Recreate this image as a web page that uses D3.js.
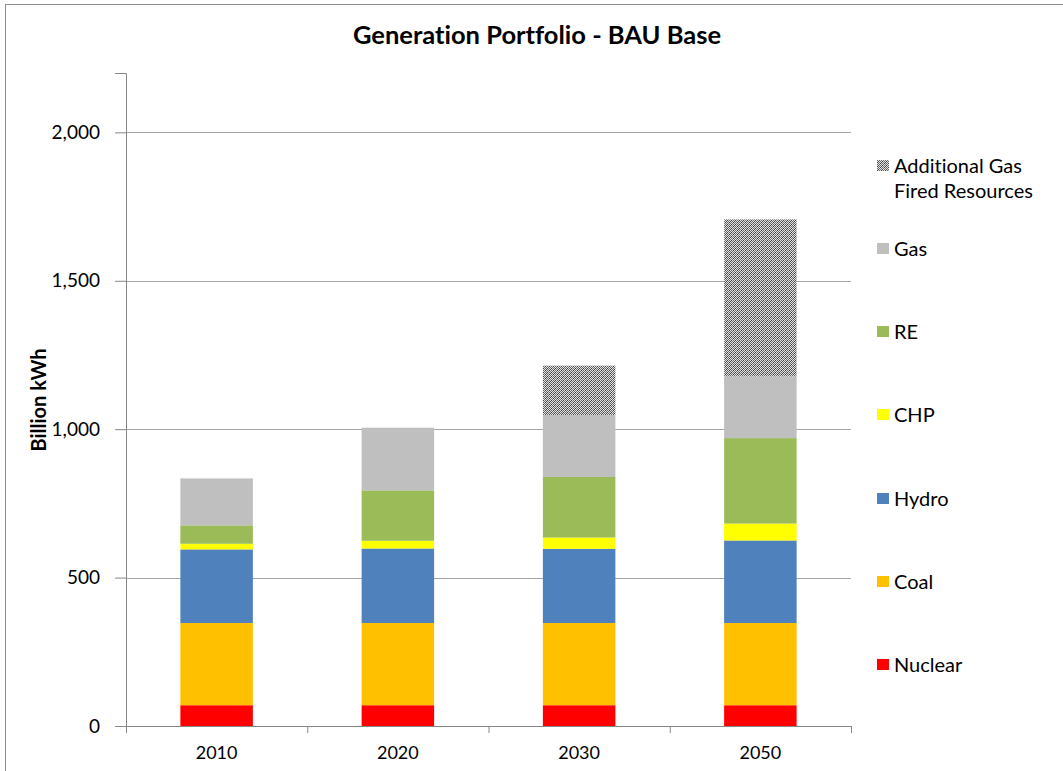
<!DOCTYPE html>
<html>
<head>
<meta charset="utf-8">
<script src="https://cdn.jsdelivr.net/npm/d3@7/dist/d3.min.js"></script>
<style>
  body { margin: 0; background: #fff; }
  svg { font-family: Lato, "Open Sans", sans-serif; font-variant-ligatures: none; }
</style>
</head>
<body>
<svg id="chart"></svg>
<script>
var viewWidth = 1063;
var viewHeight = 771;

// data (billion kWh)
var years = ["2010", "2020", "2030", "2050"];
var seriesNames = ["Nuclear", "Coal", "Hydro", "CHP", "RE", "Gas", "Additional Gas Fired Resources"];
var nuclear = [70, 70, 70, 70];
var coal = [277, 277, 277, 277];
var hydro = [248, 251, 250, 278];
var chp = [19, 26, 38, 57];
var re = [62, 170, 204, 288];
var gas = [158, 211, 209, 208];
var addGas = [0, 0, 166, 529];
var yTicks = [0, 500, 1000, 1500, 2000];

var colors = ["#ff0000", "#ffc000", "#4f81bd", "#ffff00", "#9bbb59", "#bfbfbf", "url(#checker)"];
var seriesValues = [nuclear, coal, hydro, chp, re, gas, addGas];

var rows = years.map(function(y, i) {
  var r = {year: y};
  seriesNames.forEach(function(s, j) { r[s] = seriesValues[j][i]; });
  return r;
});

var margin = {top: 73, right: 212, bottom: 45, left: 126};
var width = 851 - margin.left;
var height = 726 - margin.top;

var svg = d3.select("#chart")
    .attr("width", viewWidth)
    .attr("height", viewHeight);

// pattern for the additional gas series
var pat = svg.append("defs").append("pattern")
    .attr("id", "checker")
    .attr("patternUnits", "userSpaceOnUse")
    .attr("width", 4)
    .attr("height", 4);
pat.append("rect").attr("width", 4).attr("height", 4).attr("fill", "#e2e2e2");
[[0,0],[2,0],[1,1],[3,1],[0,2],[2,2],[1,3],[3,3]].forEach(function(p, k) {
  pat.append("rect").attr("x", p[0]).attr("y", p[1]).attr("width", 1).attr("height", 1)
    .attr("fill", (k % 3 == 0) ? "#404040" : "#6a6a6a");
});

// outer frame
svg.append("rect")
    .attr("x", 5.5).attr("y", 4.5)
    .attr("width", viewWidth + 20).attr("height", viewHeight + 20)
    .attr("fill", "none").attr("stroke", "#8c8c8c");

svg.append("text")
    .attr("x", 537).attr("y", 44)
    .attr("text-anchor", "middle")
    .style("font-size", "25.5px").style("font-weight", "bold")
    .text("Generation Portfolio - BAU Base");

var g = svg.append("g")
    .attr("transform", "translate(" + margin.left + "," + margin.top + ")");

var x = d3.scaleBand().domain(years).range([0, width]).paddingInner(0.6).paddingOuter(0.3);
var y = d3.scaleLinear().domain([0, 2200]).range([height, 0]);

// gridlines
g.selectAll(".grid").data(yTicks.slice(1)).enter().append("line")
    .attr("x1", 0).attr("x2", width)
    .attr("y1", function(d) { return Math.round(y(d)) + 0.5; })
    .attr("y2", function(d) { return Math.round(y(d)) + 0.5; })
    .attr("stroke", "#a6a6a6");

var stack = d3.stack().keys(seriesNames)(rows);

g.selectAll(".layer").data(stack).enter().append("g")
    .attr("fill", function(d, i) { return colors[i]; })
  .selectAll("rect").data(function(d) { return d; }).enter().append("rect")
    .attr("x", function(d) { return x(d.data.year); })
    .attr("width", x.bandwidth())
    .attr("y", function(d) { return y(d[1]); })
    .attr("height", function(d) { return y(d[0]) - y(d[1]); });

// y axis
var yAxis = d3.axisLeft(y).tickValues(yTicks).tickSize(11).tickPadding(15)
    .tickFormat(d3.format(","));
var ya = g.append("g").call(yAxis);
ya.select(".domain").attr("stroke", "#868686");
ya.selectAll(".tick line").attr("stroke", "#868686");
ya.selectAll("text").style("font-size", "19px").attr("fill", "#000")
    .style("font-family", "Lato, sans-serif");

// x axis with ticks between categories
var xa = g.append("g").attr("transform", "translate(0," + height + ")");
xa.append("line").attr("x1", 0).attr("x2", width).attr("y1", 0.5).attr("y2", 0.5)
    .attr("stroke", "#868686");
xa.selectAll(".sep").data(d3.range(years.length + 1)).enter().append("line")
    .attr("x1", function(i) { return i * width / years.length + 0.5; })
    .attr("x2", function(i) { return i * width / years.length + 0.5; })
    .attr("y1", 0).attr("y2", 7)
    .attr("stroke", "#868686");
xa.selectAll(".lbl").data(years).enter().append("text")
    .attr("x", function(d) { return x(d) + x.bandwidth() / 2; })
    .attr("y", 33)
    .attr("text-anchor", "middle")
    .style("font-size", "18px")
    .text(function(d) { return d; });

svg.append("text")
    .attr("transform", "translate(46,400) rotate(-90)")
    .attr("text-anchor", "middle")
    .style("font-size", "20px").style("font-weight", "bold")
    .text("Billion kWh");

// legend, top entry first
var legendY = [166, 249, 332, 415, 499, 582, 665];
var legendOrder = seriesNames.slice().reverse();
var leg = svg.selectAll(".leg").data(legendOrder).enter().append("g")
    .attr("transform", function(d, i) { return "translate(877," + legendY[i] + ")"; });
leg.append("rect")
    .attr("x", 0).attr("y", -6).attr("width", 12).attr("height", 11)
    .attr("fill", function(d) { return colors[seriesNames.indexOf(d)]; });
leg.append("text")
    .attr("x", 17).attr("y", 7)
    .style("font-size", "20px")
    .each(function(d) {
      var t = d3.select(this);
      if (d == "Additional Gas Fired Resources") {
        t.append("tspan").attr("x", 17).text("Additional Gas");
        t.append("tspan").attr("x", 17).attr("dy", 25).text("Fired Resources");
      } else {
        t.text(d);
      }
    });
</script>
</body>
</html>
